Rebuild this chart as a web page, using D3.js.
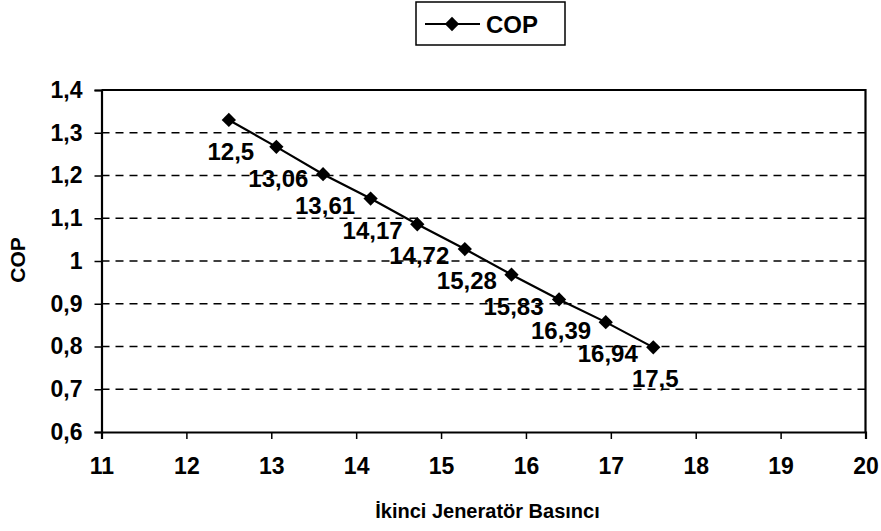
<!DOCTYPE html>
<html>
<head>
<meta charset="utf-8">
<script src="https://cdn.jsdelivr.net/npm/d3@7"></script>
<style>
  body { margin: 0; background: #fff; }
  svg text { font-family: "Liberation Sans", Arial, sans-serif; font-weight: bold; fill: #000; }
</style>
</head>
<body>
<div id="chart"></div>
<script>
// data
var pressure = [12.5, 13.06, 13.61, 14.17, 14.72, 15.28, 15.83, 16.39, 16.94, 17.5];
var cop      = [1.330, 1.267, 1.203, 1.146, 1.086, 1.028, 0.968, 0.910, 0.857, 0.798];
var pointLabels = ['12,5', '13,06', '13,61', '14,17', '14,72', '15,28', '15,83', '16,39', '16,94', '17,5'];
var xTicks = [11, 12, 13, 14, 15, 16, 17, 18, 19, 20];
var yTicks = [0.6, 0.7, 0.8, 0.9, 1.0, 1.1, 1.2, 1.3, 1.4];
var seriesName = 'COP';
var xTitle = 'İkinci Jeneratör Basıncı';
var yTitle = 'COP';

(function(){
var W = 881, H = 531;
var pLeft = 101.5, pRight = 865.5, pTop = 90, pBottom = 432;

var svg = d3.select('#chart').append('svg')
  .attr('width', W)
  .attr('height', H);

var x = d3.scaleLinear().domain([11, 20]).range([pLeft, pRight]);
var y = d3.scaleLinear().domain([0.6, 1.4]).range([pBottom, pTop]);

function comma(d) { return String(+d.toFixed(1)).replace('.', ','); }

// dashed grid
svg.selectAll('.grid')
  .data(yTicks.filter(function(d){ return d > 0.65 && d < 1.35; }))
  .enter()
  .append('line')
    .classed('grid', 1)
    .attr('x1', pLeft).attr('x2', pRight)
    .attr('y1', function(d){ return y(d); })
    .attr('y2', function(d){ return y(d); })
    .attr('stroke', '#000')
    .attr('stroke-width', 1.4)
    .attr('stroke-dasharray', '8,6');

// frame (top + right)
svg.append('path')
  .attr('d', 'M' + pLeft + ',' + pTop + 'H' + pRight + 'V' + pBottom)
  .attr('fill', 'none')
  .attr('stroke', '#000')
  .attr('stroke-width', 2.2);

var xAxis = svg.append('g')
  .attr('transform', 'translate(0,' + pBottom + ')')
  .call(d3.axisBottom(x).tickValues(xTicks).tickSize(7).tickPadding(19).tickFormat(function(d){ return d; }));
xAxis.select('.domain').attr('stroke-width', 2.2);
xAxis.selectAll('.tick line').attr('stroke-width', 1.5);
xAxis.selectAll('text').attr('font-size', 23).attr('fill', '#000');

var yAxis = svg.append('g')
  .attr('transform', 'translate(' + pLeft + ',0)')
  .call(d3.axisLeft(y).tickValues(yTicks).tickSize(7).tickPadding(12).tickFormat(comma));
yAxis.select('.domain').attr('stroke-width', 2.2);
yAxis.selectAll('.tick line').attr('stroke-width', 1.5);
yAxis.selectAll('text').attr('font-size', 23).attr('fill', '#000');

// series line
var line = d3.line()
  .x(function(d, i){ return x(pressure[i]); })
  .y(function(d){ return y(d); });

svg.append('path')
  .datum(cop)
  .attr('d', line)
  .attr('fill', 'none')
  .attr('stroke', '#000')
  .attr('stroke-width', 2.2);

var diamond = d3.symbol().type(d3.symbolDiamond2).size(130);

svg.selectAll('.marker')
  .data(cop)
  .enter()
  .append('path')
    .classed('marker', 1)
    .attr('d', diamond)
    .attr('transform', function(d, i){ return 'translate(' + x(pressure[i]) + ',' + y(d) + ')'; })
    .attr('fill', '#000');

svg.selectAll('.plabel')
  .data(cop)
  .enter()
  .append('text')
    .classed('plabel', 1)
    .attr('x', function(d, i){ return x(pressure[i]) + 2; })
    .attr('y', function(d){ return y(d) + 40; })
    .attr('text-anchor', 'middle')
    .attr('font-size', 24)
    .text(function(d, i){ return pointLabels[i]; });

// axis titles
svg.append('text')
  .attr('x', (pLeft + pRight) / 2 + 4)
  .attr('y', 518)
  .attr('text-anchor', 'middle')
  .attr('font-size', 20)
  .text(xTitle);

svg.append('text')
  .attr('transform', 'translate(25,260) rotate(-90)')
  .attr('text-anchor', 'middle')
  .attr('font-size', 21)
  .text(yTitle);

// legend
var lg = svg.append('g');
lg.append('rect')
  .attr('x', 416).attr('y', 2)
  .attr('width', 149).attr('height', 43)
  .attr('fill', '#fff')
  .attr('stroke', '#000')
  .attr('stroke-width', 1.5);
lg.append('line')
  .attr('x1', 425).attr('x2', 480)
  .attr('y1', 24).attr('y2', 24)
  .attr('stroke', '#000')
  .attr('stroke-width', 2.2);
lg.append('path')
  .attr('d', diamond)
  .attr('transform', 'translate(452,24)')
  .attr('fill', '#000');
lg.append('text')
  .attr('x', 486).attr('y', 33)
  .attr('font-size', 24)
  .text(seriesName);
})();
</script>
</body>
</html>
